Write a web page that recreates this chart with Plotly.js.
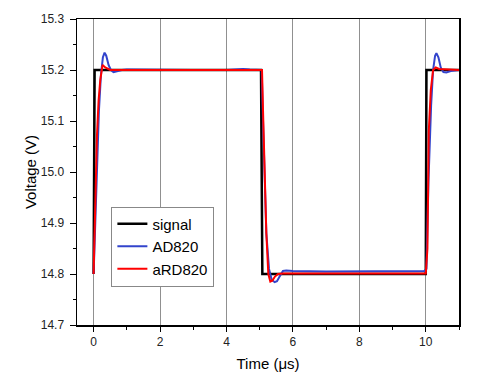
<!DOCTYPE html>
<html>
<head>
<meta charset="utf-8">
<script src="https://cdn.plot.ly/plotly-3.0.1.min.js"></script>
<style>
  html, body { margin: 0; padding: 0; background: #fff; }
  #chart { width: 489px; height: 383px; }
</style>
</head>
<body>
<div id="chart"></div>
<script>
// square input signal
var sigT = [0, 0.03, 5.04, 5.08, 10.0, 10.02, 11];
var sigV = [14.8, 15.2, 15.2, 14.8, 14.8, 15.2, 15.2];

// AD820 output
var adT = [0, 0.08, 0.16, 0.22, 0.28, 0.33, 0.38, 0.45, 0.52, 0.6, 0.7, 0.85, 1.0, 2, 3, 4, 4.5, 4.7,
  5.06, 5.1, 5.15, 5.2, 5.28, 5.36, 5.45, 5.52, 5.6, 5.7, 5.8, 6, 7, 8, 9, 9.95,
  10.02, 10.08, 10.16, 10.22, 10.28, 10.32, 10.38, 10.45, 10.53, 10.62, 10.75, 11];
var adV = [14.8, 14.98, 15.12, 15.19, 15.225, 15.234, 15.228, 15.21, 15.2, 15.196, 15.198, 15.2, 15.201, 15.2, 15.2, 15.2, 15.202, 15.201,
  15.2, 15.1, 14.98, 14.88, 14.81, 14.789, 14.784, 14.786, 14.795, 14.806, 14.807, 14.806, 14.805, 14.805, 14.805, 14.806,
  14.81, 14.98, 15.13, 15.2, 15.228, 15.233, 15.225, 15.205, 15.196, 15.195, 15.198, 15.2];

// aRD820 output
var ardT = [0, 0.05, 0.1, 0.15, 0.2, 0.27, 0.35, 0.5, 1, 2, 3, 4, 5.07,
  5.1, 5.15, 5.2, 5.26, 5.32, 5.38, 5.46, 5.55, 5.7, 7, 9, 10.0,
  10.05, 10.09, 10.15, 10.22, 10.3, 10.4, 11];
var ardV = [14.8, 14.93, 15.07, 15.14, 15.18, 15.21, 15.205, 15.2, 15.2, 15.2, 15.2, 15.2, 15.2,
  15.12, 15.0, 14.88, 14.8, 14.785, 14.787, 14.795, 14.8, 14.801, 14.801, 14.801, 14.801,
  14.85, 15.08, 15.16, 15.2, 15.205, 15.202, 15.2];

var fontFam = 'Liberation Sans, Arial, sans-serif';

var traces = [
  {x: sigT, y: sigV, name: 'signal', mode: 'lines', line: {color: '#000000', width: 2.5}},
  {x: adT, y: adV, name: 'AD820', mode: 'lines', line: {color: '#3344cc', width: 2}},
  {x: ardT, y: ardV, name: 'aRD820', mode: 'lines', line: {color: '#ff0000', width: 2}}
];

var layout = {
  width: 489, height: 383,
  margin: {l: 77, r: 30, t: 19, b: 58},
  paper_bgcolor: '#ffffff', plot_bgcolor: '#ffffff',
  font: {family: fontFam, size: 12, color: '#222'},
  showlegend: true,
  legend: {x: 0.09, y: 0.387, xanchor: 'left', yanchor: 'top',
    bgcolor: '#ffffff', bordercolor: '#888', borderwidth: 1,
    font: {family: fontFam, size: 15, color: '#000'}},
  xaxis: {
    range: [-0.5, 11], tick0: 0, dtick: 2,
    showgrid: true, gridcolor: '#909090', gridwidth: 1, zeroline: false,
    showline: true, linecolor: '#000', linewidth: 1.5, mirror: true,
    ticks: 'outside', ticklen: 5, tickcolor: '#000',
    minor: {dtick: 1, ticks: 'outside', ticklen: 3, tickcolor: '#000', showgrid: false},
    title: {text: 'Time (μs)', font: {size: 15, color: '#000'}, standoff: 10}
  },
  yaxis: {
    range: [14.7, 15.3], dtick: 0.1, tickformat: '.1f',
    showgrid: false, zeroline: false,
    showline: true, linecolor: '#000', linewidth: 1.5, mirror: true,
    ticks: 'outside', ticklen: 6, tickcolor: '#000', ticklabelstandoff: 3,
    minor: {dtick: 0.05, ticks: 'outside', ticklen: 3, tickcolor: '#000', showgrid: false},
    title: {text: 'Voltage (V)', font: {size: 15, color: '#000'}, standoff: 0}
  },
  yaxis2: {
    overlaying: 'y', range: [14.7, 15.3], tick0: 14.8, dtick: 0.2,
    showgrid: true, gridcolor: '#909090', gridwidth: 1, zeroline: false,
    showline: false, showticklabels: false, ticks: ''
  }
};

Plotly.newPlot('chart', traces, layout, {displayModeBar: false, staticPlot: true});
</script>
</body>
</html>
